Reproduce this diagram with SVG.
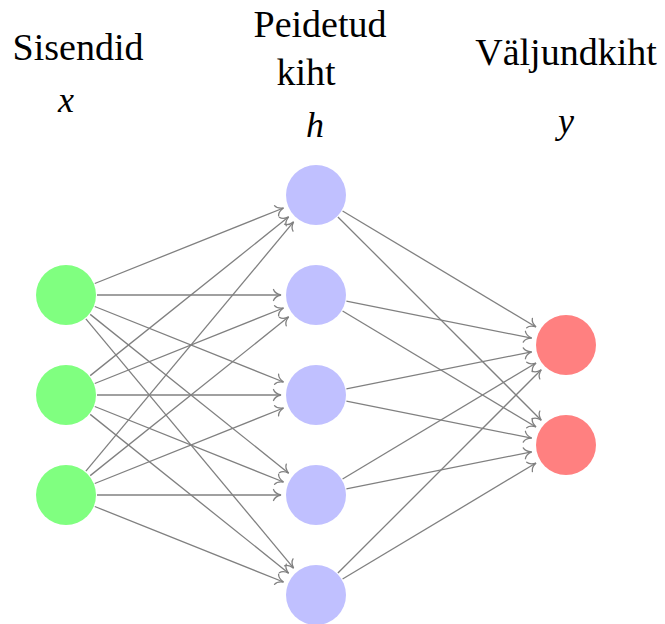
<svg xmlns="http://www.w3.org/2000/svg" width="665" height="624" viewBox="0 0 665 624">
<style>
text{font-family:'Liberation Serif','Times New Roman',Times,'DejaVu Serif','Noto Serif',serif;fill:#000;text-anchor:middle}
.lbl{font-size:38px}
.math{font-style:italic;font-size:36px}
.edge{stroke:#808080;stroke-width:1.3;fill:none;marker-end:url(#to)}
.in{fill:#80ff80}
.hid{fill:#c0c0ff}
.out{fill:#ff8080}
</style>
<defs>
<marker id="to" markerUnits="userSpaceOnUse" markerWidth="12" markerHeight="14" viewBox="-10 -7 12 14" refX="0" refY="0" orient="auto">
<path d="M-7.5,-5.5 C-6.5,-2.5 -2.5,-0.6 0,0 C-2.5,0.6 -6.5,2.5 -7.5,5.5" stroke="#808080" stroke-width="1.3" fill="none" stroke-linecap="round"/>
</marker>
</defs>
<g id="labels">
<text class="lbl" x="78" y="60" font-family="Liberation Serif, Times New Roman, serif">Sisendid</text>
<text class="lbl" x="320" y="37" font-family="Liberation Serif, Times New Roman, serif">Peidetud</text>
<text class="lbl" x="306" y="85" font-family="Liberation Serif, Times New Roman, serif">kiht</text>
<text class="lbl" x="566" y="65" font-family="Liberation Serif, Times New Roman, serif">Väljundkiht</text>
<text class="math" x="66" y="112" font-family="Liberation Serif, Times New Roman, serif">x</text>
<text class="math" x="315" y="137" font-family="Liberation Serif, Times New Roman, serif">h</text>
<text class="math" x="566" y="133" font-family="Liberation Serif, Times New Roman, serif">y</text>
</g>
<g id="connectors">
<line class="edge" x1="94.78" y1="283.49" x2="283.50" y2="208.00"/>
<line class="edge" x1="97" y1="295" x2="281" y2="295"/>
<line class="edge" x1="94.78" y1="306.51" x2="283.50" y2="382.00"/>
<line class="edge" x1="90.21" y1="314.37" x2="288.67" y2="473.14"/>
<line class="edge" x1="85.85" y1="318.81" x2="293.59" y2="568.11"/>
<line class="edge" x1="90.21" y1="375.63" x2="288.67" y2="216.86"/>
<line class="edge" x1="94.78" y1="383.49" x2="283.50" y2="308.00"/>
<line class="edge" x1="97" y1="395" x2="281" y2="395"/>
<line class="edge" x1="94.78" y1="406.51" x2="283.50" y2="482.00"/>
<line class="edge" x1="90.21" y1="414.37" x2="288.67" y2="573.14"/>
<line class="edge" x1="85.85" y1="471.19" x2="293.59" y2="221.89"/>
<line class="edge" x1="90.21" y1="475.63" x2="288.67" y2="316.86"/>
<line class="edge" x1="94.78" y1="483.49" x2="283.50" y2="408.00"/>
<line class="edge" x1="97" y1="495" x2="281" y2="495"/>
<line class="edge" x1="94.78" y1="506.51" x2="283.50" y2="582.00"/>
<line class="edge" x1="342.58" y1="210.95" x2="535.99" y2="326.99"/>
<line class="edge" x1="337.92" y1="216.92" x2="541.25" y2="420.25"/>
<line class="edge" x1="346.40" y1="301.08" x2="531.68" y2="338.14"/>
<line class="edge" x1="342.58" y1="310.95" x2="535.99" y2="426.99"/>
<line class="edge" x1="346.40" y1="388.92" x2="531.68" y2="351.86"/>
<line class="edge" x1="346.40" y1="401.08" x2="531.68" y2="438.14"/>
<line class="edge" x1="342.58" y1="479.05" x2="535.99" y2="363.01"/>
<line class="edge" x1="346.40" y1="488.92" x2="531.68" y2="451.86"/>
<line class="edge" x1="337.92" y1="573.08" x2="541.25" y2="369.75"/>
<line class="edge" x1="342.58" y1="579.05" x2="535.99" y2="463.01"/>
</g>
<g id="x1"><circle class="in" cx="66" cy="295" r="30"/></g>
<g id="x2"><circle class="in" cx="66" cy="395" r="30"/></g>
<g id="x3"><circle class="in" cx="66" cy="495" r="30"/></g>
<g id="h1"><circle class="hid" cx="316" cy="195" r="30"/></g>
<g id="h2"><circle class="hid" cx="316" cy="295" r="30"/></g>
<g id="h3"><circle class="hid" cx="316" cy="395" r="30"/></g>
<g id="h4"><circle class="hid" cx="316" cy="495" r="30"/></g>
<g id="h5"><circle class="hid" cx="316" cy="595" r="30"/></g>
<g id="y1"><circle class="out" cx="566" cy="345" r="30"/></g>
<g id="y2"><circle class="out" cx="566" cy="445" r="30"/></g>
</svg>
